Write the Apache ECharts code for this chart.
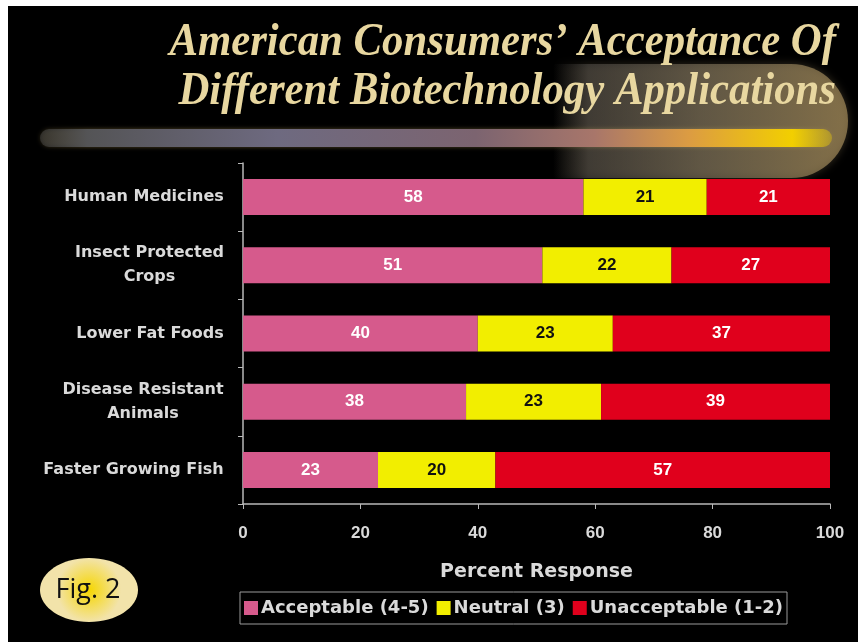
<!DOCTYPE html>
<html>
<head>
<meta charset="utf-8">
<title>American Consumers' Acceptance Of Different Biotechnology Applications</title>
<script src="https://cdn.jsdelivr.net/npm/echarts@6/dist/echarts.min.js"></script>
<style>
  html, body { margin: 0; padding: 0; background: #ffffff; }
  #chart { width: 858px; height: 642px; }
</style>
</head>
<body>
<div id="chart"></div>
<script>
// Survey categories (top to bottom)
const categories = [
  'Human Medicines',
  'Insect Protected\nCrops',
  'Lower Fat Foods',
  'Disease Resistant\nAnimals',
  'Faster Growing Fish'
];

// Percent response per category
const acceptable   = [58, 51, 40, 38, 23];
const neutral      = [21, 22, 23, 23, 20];
const unacceptable = [21, 27, 37, 39, 57];

const seriesNames = ['Acceptable (4-5)', 'Neutral (3)', 'Unacceptable (1-2)'];
const xTicks = [0, 20, 40, 60, 80, 100];

const titleLines = [
  'American Consumers\u2019 Acceptance Of',
  'Different Biotechnology Applications'
];

const COLORS = ['#d65a8c', '#f2ee00', '#e0001c'];
const LABEL_COLORS = ['#ffffff', '#111111', '#ffffff'];
const TEXT = '#dadada';
const SANS = '"Liberation Sans", Arial, sans-serif';
const WIDE = '"DejaVu Sans", Verdana, sans-serif';
const SERIF = '"Liberation Serif", "Times New Roman", serif';

// width of a text line, used to centre wrapped category labels
const measureCtx = document.createElement('canvas').getContext('2d');
function textWidth(str, font) {
  measureCtx.font = font;
  return Math.ceil(measureCtx.measureText(str).width);
}

const CAT_FONT_SIZE = 16;
const catRich = {};
categories.forEach((c, i) => {
  const lines = c.split('\n');
  const w = Math.max(...lines.map(l => textWidth(l, 'bold ' + CAT_FONT_SIZE + 'px "DejaVu Sans"')));
  catRich['c' + i] = {
    width: w,
    align: 'center',
    color: TEXT,
    fontFamily: WIDE,
    fontWeight: 'bold',
    fontSize: CAT_FONT_SIZE,
    lineHeight: 24
  };
});

const chart = echarts.init(document.getElementById('chart'), null, { renderer: 'canvas' });

function barSeries(idx, data) {
  return {
    name: seriesNames[idx],
    type: 'bar',
    stack: 'total',
    barWidth: 36,
    data: data,
    itemStyle: { color: COLORS[idx] },
    label: {
      show: true,
      position: 'inside',
      color: LABEL_COLORS[idx],
      fontFamily: SANS,
      fontWeight: 'bold',
      fontSize: 17
    },
    emphasis: { disabled: true },
    z: 5
  };
}

const titleGraphics = titleLines.map((line, i) => ({
  type: 'text',
  z: 10,
  silent: true,
  x: 836,
  y: 43 + i * 49,
  scaleX: 0.93,
  style: {
    text: line,
    fontFamily: SERIF,
    fontStyle: 'italic',
    fontWeight: 'bold',
    fontSize: 46,
    fill: '#e8d7a0',
    align: 'right',
    verticalAlign: 'middle',
    shadowColor: 'rgba(0,0,0,0.6)',
    shadowBlur: 3
  }
}));

const option = {
  backgroundColor: '#ffffff',
  animation: false,
  graphic: [
    // black slide background inside the white frame
    { type: 'rect', z: -10, silent: true,
      shape: { x: 8, y: 6, width: 850, height: 636 },
      style: { fill: '#000000' } },
    // halo behind the right end of the streak
    { type: 'rect', z: -9, silent: true,
      shape: { x: 553, y: 64, width: 295, height: 114, r: [2, 57, 57, 2] },
      style: {
        fill: {
          type: 'linear', x: 0, y: 0, x2: 1, y2: 0,
          colorStops: [
            { offset: 0, color: 'rgba(80,78,76,0.0)' },
            { offset: 0.12, color: 'rgba(100,95,90,0.45)' },
            { offset: 0.5, color: 'rgba(130,118,95,0.6)' },
            { offset: 1, color: 'rgba(165,140,90,0.7)' }
          ]
        },
        shadowColor: 'rgba(150,130,90,0.5)',
        shadowBlur: 8
      } },
    // decorative streak
    { type: 'rect', z: -8, silent: true,
      shape: { x: 40, y: 129, width: 792, height: 18, r: 9 },
      style: {
        fill: {
          type: 'linear', x: 0, y: 0, x2: 1, y2: 0,
          colorStops: [
            { offset: 0, color: 'rgba(70,70,70,0.5)' },
            { offset: 0.06, color: '#545456' },
            { offset: 0.3, color: '#6e6a80' },
            { offset: 0.55, color: '#7c6470' },
            { offset: 0.7, color: '#a8766a' },
            { offset: 0.82, color: '#dc9c42' },
            { offset: 0.95, color: '#f2cf00' },
            { offset: 1, color: 'rgba(242,208,0,0.35)' }
          ]
        },
        shadowColor: 'rgba(200,170,90,0.4)',
        shadowBlur: 4
      } },
    // figure badge
    { type: 'ellipse', z: 20, silent: true,
      shape: { cx: 89, cy: 590, rx: 49, ry: 32 },
      style: {
        fill: {
          type: 'radial', x: 0.5, y: 0.5, r: 0.5,
          colorStops: [
            { offset: 0, color: '#f6d600' },
            { offset: 1, color: '#f2e3aa' }
          ]
        }
      } },
    { type: 'text', z: 21, silent: true,
      x: 88, y: 590,
      style: {
        text: 'Fig. 2',
        fontFamily: '"Open Sans", "Noto Sans", sans-serif',
        fontSize: 27,
        fill: '#111111',
        align: 'center',
        verticalAlign: 'middle'
      } }
  ].concat(titleGraphics),
  legend: {
    data: seriesNames,
    left: 240,
    top: 592,
    orient: 'horizontal',
    padding: [7, 4, 7, 4],
    borderColor: '#9a9a9a',
    borderWidth: 1,
    itemWidth: 14,
    itemHeight: 14,
    itemGap: 8,
    icon: 'rect',
    selectedMode: false,
    textStyle: {
      color: TEXT,
      fontFamily: WIDE,
      fontWeight: 'bold',
      fontSize: 18,
      padding: [0, 0, 0, -2]
    }
  },
  grid: {
    left: 243,
    right: 28,
    top: 163,
    bottom: 138,
    containLabel: false
  },
  xAxis: {
    type: 'value',
    min: xTicks[0],
    max: xTicks[xTicks.length - 1],
    interval: 20,
    name: 'Percent Response',
    nameLocation: 'middle',
    nameGap: 59,
    nameTextStyle: {
      color: TEXT,
      fontFamily: WIDE,
      fontWeight: 'bold',
      fontSize: 19
    },
    axisLine: { show: true, lineStyle: { color: '#b8b8b8', width: 1.5 } },
    axisTick: { show: true, length: 5, lineStyle: { color: '#b8b8b8' } },
    axisLabel: {
      color: TEXT,
      fontFamily: SANS,
      fontWeight: 'bold',
      fontSize: 17,
      margin: 21
    },
    splitLine: { show: false }
  },
  yAxis: {
    type: 'category',
    data: categories,
    inverse: true,
    axisLine: { show: true, lineStyle: { color: '#b8b8b8', width: 1.5 } },
    axisTick: { show: true, length: 5, lineStyle: { color: '#b8b8b8' } },
    axisLabel: {
      color: TEXT,
      fontFamily: WIDE,
      fontWeight: 'bold',
      fontSize: CAT_FONT_SIZE,
      lineHeight: 24,
      align: 'right',
      margin: 19,
      formatter: (value, index) => value.split('\n').map(l => '{c' + index + '|' + l + '}').join('\n'),
      rich: catRich
    }
  },
  series: [
    barSeries(0, acceptable),
    barSeries(1, neutral),
    barSeries(2, unacceptable)
  ]
};

chart.setOption(option);
</script>
</body>
</html>
